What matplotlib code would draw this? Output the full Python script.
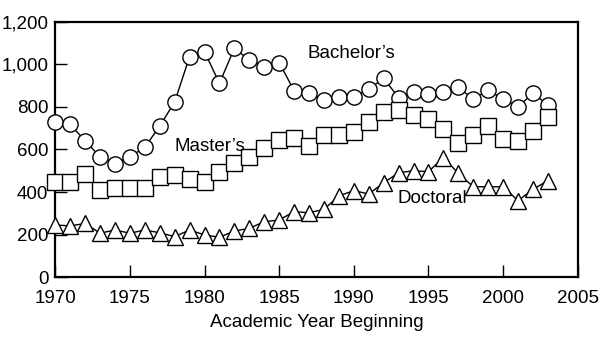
import matplotlib
matplotlib.use('Agg')
import matplotlib.pyplot as plt
from matplotlib.ticker import FuncFormatter

plt.rcParams['font.family'] = ['Liberation Sans', 'DejaVu Sans']

years = list(range(1970, 2004))

# values
bachelors = [728, 718, 641, 566, 532, 566, 610, 710, 823, 1036,
             1059, 911, 1075, 1020, 989, 1008, 876, 866, 832, 848,
             848, 883, 934, 843, 871, 861, 871, 892, 836, 879,
             836, 801, 864, 809]
masters = [449, 449, 485, 410, 418, 418, 418, 472, 480, 460,
           449, 496, 538, 566, 608, 645, 655, 618, 668, 668,
           684, 731, 777, 785, 762, 742, 695, 632, 668, 710,
           648, 641, 688, 754]
doctoral = [246, 241, 253, 207, 222, 207, 222, 209, 191, 222,
            199, 188, 217, 230, 261, 269, 308, 303, 319, 382,
            407, 391, 444, 491, 500, 496, 562, 488, 425, 425,
            425, 360, 413, 454]

fig = plt.figure(figsize=(6, 3.53), dpi=100)
ax = fig.add_axes([0.092, 0.2145, 0.871, 0.724])

style = dict(color='black', lw=1, mfc='white', mec='black', mew=1, clip_on=False, zorder=3)
ax.plot(years, bachelors, marker='o', ms=11, **style)
ax.plot(years, masters, marker='s', ms=11, **style)
ax.plot(years, doctoral, marker='^', ms=12, **style)

ax.text(1986.9, 1053, "Bachelor’s", fontsize=13.5, va='center')
ax.text(1978.0, 612, "Master’s", fontsize=13.5, va='center')
ax.text(1992.9, 368, "Doctoral", fontsize=13.5, va='center')

ax.set_xlim(1970, 2005)
ax.set_ylim(0, 1200)
ax.set_xticks(range(1970, 2006, 5))
ax.set_yticks(range(0, 1201, 200))
ax.yaxis.set_major_formatter(FuncFormatter(lambda v, p: f"{int(v):,}"))
ax.tick_params(direction='in', length=8.5, width=1, labelsize=13.5)
ax.tick_params(axis='x', pad=9)
ax.tick_params(axis='y', pad=5)
for s in ax.spines.values():
    s.set_linewidth(1.6)

ax.set_xlabel('Academic Year Beginning', fontsize=13.5, labelpad=5)

fig.savefig('out.png', dpi=100)
